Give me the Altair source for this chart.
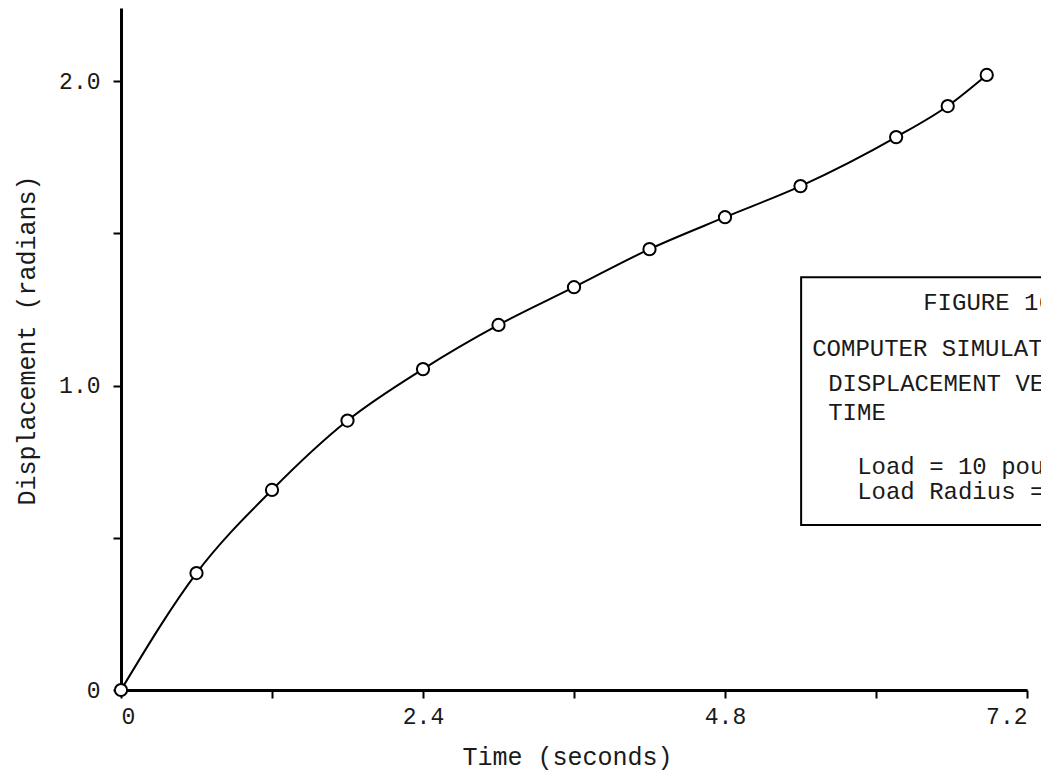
import altair as alt
import pandas as pd

# Data
time_s = [0.0, 0.6, 1.2, 1.8, 2.4, 3.0, 3.6, 4.2, 4.8, 5.4, 6.16, 6.57, 6.88]
displacement = [0.0, 0.384, 0.657, 0.885, 1.054, 1.199, 1.323, 1.448, 1.553, 1.655, 1.816, 1.918, 2.02]

x_ticks = [0, 1.2, 2.4, 3.6, 4.8, 6.0, 7.2]
y_ticks = [0, 0.5, 1.0, 1.5, 2.0]

box_lines = ["FIGURE 16", "COMPUTER SIMULATION OF", "DISPLACEMENT VERSUS", "TIME",
             "Load = 10 pounds", "Load Radius = 6 inches"]
box_line_x = [6.375, 5.493, 5.62, 5.62, 5.85, 5.85]
box_line_y = [1.271, 1.12, 1.005, 0.91, 0.731, 0.649]
box_x = [5.405]
box_x2 = [7.7]
box_y = [0.542]
box_y2 = [1.356]

df = pd.DataFrame({"t": time_s, "d": displacement})
txt = pd.DataFrame({"x": box_line_x, "y": box_line_y, "text": box_lines})
box = pd.DataFrame({"x": box_x, "x2": box_x2, "y": box_y, "y2": box_y2})

FONT = "Liberation Mono"
INK = "#1a1a1a"

x_scale = alt.Scale(domain=[0, 7.2], nice=False, zero=False)
y_scale = alt.Scale(domain=[0, 2.24], nice=False, zero=False)

x_axis = alt.Axis(
    values=x_ticks,
    title="Time (seconds)",
    labelExpr="datum.value == 0 ? '0' : (abs(datum.value/2.4 - round(datum.value/2.4)) < 0.01 ? format(datum.value, '.1f') : '')",
    labelFont=FONT,
    labelFontSize=23,
    labelColor=INK,
    labelPadding=7,
    titleFont=FONT,
    titleFontSize=25,
    titleFontWeight="normal",
    titleColor=INK,
    titleX=446,
    titleY=66,
    titleAlign="center",
    titleBaseline="middle",
    grid=False,
)
y_axis = alt.Axis(
    values=y_ticks,
    title="Displacement (radians)",
    labelExpr="datum.value == 0 ? '0' : (datum.value == 1 || datum.value == 2 ? format(datum.value, '.1f') : '')",
    labelFont=FONT,
    labelFontSize=23,
    labelColor=INK,
    labelPadding=13,
    titleFont=FONT,
    titleFontSize=25,
    titleFontWeight="normal",
    titleColor=INK,
    titleX=-95,
    titleY=332,
    titleAngle=270,
    titleAlign="center",
    titleBaseline="middle",
    grid=False,
)

line = alt.Chart(df).mark_line(color="black", strokeWidth=2, interpolate="monotone").encode(
    x=alt.X("t:Q", scale=x_scale, axis=x_axis),
    y=alt.Y("d:Q", scale=y_scale, axis=y_axis),
)

points = alt.Chart(df).mark_point(
    shape="circle", filled=True, fill="white", stroke="black", strokeWidth=2, size=150, opacity=1
).encode(
    x=alt.X("t:Q", scale=x_scale),
    y=alt.Y("d:Q", scale=y_scale),
)

rect = alt.Chart(box).mark_rect(fill="white", fillOpacity=0, stroke="black", strokeWidth=2).encode(
    x=alt.X("x:Q", scale=x_scale),
    x2="x2:Q",
    y=alt.Y("y:Q", scale=y_scale),
    y2="y2:Q",
)

texts = alt.Chart(txt).mark_text(
    align="left", baseline="middle", font=FONT, fontSize=24, color=INK
).encode(
    x=alt.X("x:Q", scale=x_scale),
    y=alt.Y("y:Q", scale=y_scale),
    text="text:N",
)

chart = alt.layer(line, points, rect, texts).properties(
    width=906,
    height=682,
    autosize=alt.AutoSizeParams(type="none"),
    padding={"left": 113, "top": 0, "right": 14, "bottom": 85},
    background="white",
).configure_view(stroke=None).configure_axis(
    domainColor="black",
    domainWidth=3,
    tickColor="black",
    tickWidth=2,
    tickSize=8,
)

chart.save("out.html", embed_options={"renderer": "svg", "actions": False})
